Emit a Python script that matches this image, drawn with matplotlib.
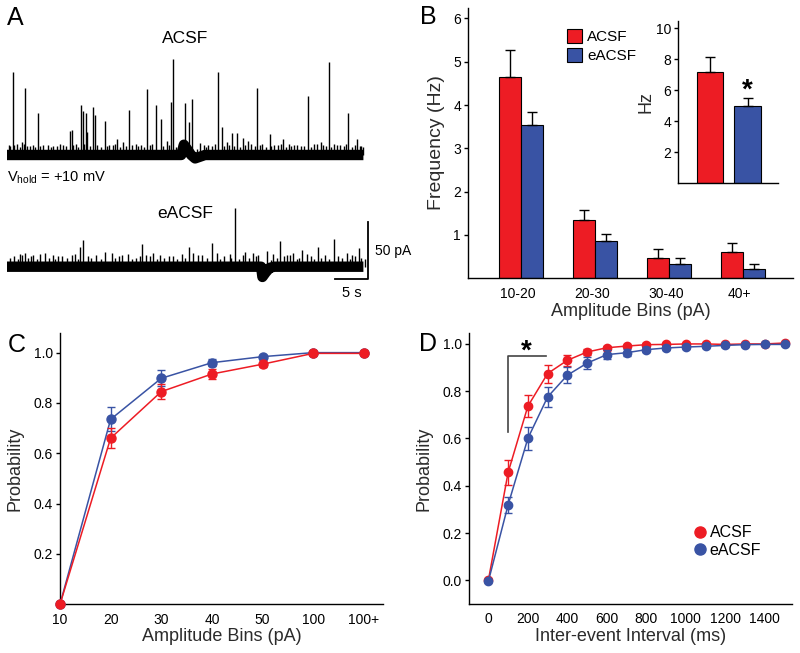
import matplotlib
matplotlib.use("Agg")
import matplotlib.pyplot as plt
from matplotlib.lines import Line2D
import numpy as np

plt.rcParams['font.family'] = ['Liberation Sans', 'DejaVu Sans']
plt.rcParams['mathtext.default'] = 'regular'

RED = '#ED1C24'
BLUE = '#3953A4'
LABEL = '#2b2b2b'

# ---- panel A: spontaneous events (time s, amplitude pA) ----
acsf_spike_t = [0.86, 2.68, 4.65, 9.55, 9.80, 11.2, 11.47, 11.92, 12.17, 12.98, 13.38,
                14.85, 16.72, 18.48, 21.16, 22.53, 23.28, 24.8, 25.15, 27.02, 27.63,
                28.03, 29.24, 32.02, 32.53, 34.04, 34.8, 35.7, 37.93, 39.85, 41.87,
                45.6, 48.84, 51.67, 52.98]
acsf_spike_amp = [72.5, 58.5, 37.1, 21, 22, 43.9, 38.9, 36.5, 20.5, 42.1, 35.1,
                  29.8, 13.7, 39.8, 57.9, 43.9, 31.6, 46.8, 83.9, 38, 26.9,
                  50, 12.3, 72.5, 24.9, 19.6, 19, 15.2, 59, 18.1, 13.7,
                  52, 81.9, 37.1, 14]
acsf_small_t = [0.3, 1.5, 2.2, 3.5, 5.5, 7.0, 8.5, 10.5, 15.5, 17.5, 19.5, 20.3, 24.2,
                26.0, 30.5, 31.0, 33.3, 36.5, 38.7, 40.5, 42.8, 43.5, 44.5, 46.5,
                47.5, 49.6, 50.5, 53.5]
acsf_small_amp = [9, 10, 11, 8, 9, 8, 9, 10, 9, 11, 10, 9, 12, 10, 9, 8, 11, 12, 10, 9,
                  10, 9, 8, 10, 11, 10, 9, 8]
acsf_fine_t = [0.5, 1.1, 1.9, 2.5, 3.1, 3.9, 4.3, 5.0, 6.2, 6.6, 7.5, 8.0, 9.0, 10.0,
               10.8, 11.6, 12.5, 13.7, 14.2, 15.1, 16.0, 16.4, 17.1, 18.0, 18.9, 19.8,
               20.8, 21.7, 22.0, 23.7, 24.5, 25.6, 28.8, 29.8, 30.2, 31.5, 32.9, 33.7,
               34.4, 35.3, 36.1, 37.0, 37.5, 38.3, 39.2, 40.0, 41.0, 41.5, 42.3, 43.1,
               44.0, 45.0, 46.0, 46.9, 47.9, 48.3, 49.1, 50.0, 51.0, 51.3, 52.3, 52.7,
               53.6, 54.0]
acsf_fine_amp = [8, 9, 7, 10, 8, 9, 7, 8, 9, 7, 8, 10, 8, 9, 7, 10, 8, 9, 7, 8, 9, 10,
                 7, 8, 9, 8, 7, 9, 10, 8, 9, 7, 8, 9, 7, 10, 8, 9, 8, 7, 9, 10, 8, 9,
                 7, 8, 9, 10, 7, 8, 9, 8, 7, 10, 9, 8, 7, 9, 8, 10, 7, 9, 8, 7]
acsf_base_t = [0, 26.4, 26.8, 27.3, 27.9, 28.5, 30.0, 54.0]
acsf_base_off = [0, 0, 9, 5, 0, -3, 0, 0]

eacsf_spike_t = [11.1, 11.47, 14.85, 20.4, 27.58, 31.0, 34.55, 39.34, 41.36, 44.65,
                 47.07, 49.55, 53.33]
eacsf_spike_amp = [17, 23.4, 13, 19.9, 17.5, 20.5, 51.2, 18.1, 22.5, 14.6, 17, 24.6, 16.1]
eacsf_small_t = [1.97, 2.73, 3.99, 5.0, 5.76, 7.78, 9.8, 10.3, 15.86, 17.37, 18.38, 20.15,
                 22.17, 23.18, 25.2, 26.47, 28.23, 28.99, 31.77, 33.79, 36.06, 37.32,
                 38.08, 40.35, 42.38, 43.38, 45.41, 51.46, 52.22]
eacsf_small_amp = [11, 12, 10, 11, 12, 9, 10, 11, 12, 10, 11, 9, 12, 10, 9, 11, 12, 10,
                   12, 11, 13, 12, 10, 11, 10, 12, 11, 12, 10]
eacsf_fine_t = [0.4, 1.0, 1.6, 2.3, 3.2, 3.6, 4.5, 6.3, 6.9, 7.3, 8.4, 9.1, 10.8, 12.2,
                12.8, 13.5, 14.2, 16.4, 16.9, 19.0, 19.6, 21.0, 21.6, 22.7, 23.8, 24.5,
                25.8, 27.0, 29.6, 30.3, 32.3, 32.9, 34.0, 35.2, 35.7, 36.7, 37.8, 40.0,
                40.9, 42.0, 42.9, 43.9, 44.2, 46.0, 46.5, 47.6, 48.2, 48.8, 50.1, 50.7,
                51.9, 52.8, 53.7, 54.2]
eacsf_fine_amp = [8, 9, 7, 10, 8, 9, 7, 8, 10, 7, 9, 8, 7, 9, 8, 10, 7, 8, 9, 7, 8, 10,
                  9, 7, 8, 9, 7, 8, 10, 8, 7, 9, 8, 7, 10, 8, 9, 7, 8, 9, 10, 7, 8, 9,
                  7, 8, 10, 7, 9, 8, 7, 9, 8, 7]
eacsf_base_t = [0, 38.5, 38.7, 39.2, 39.8, 40.5, 54.0]
eacsf_base_off = [0, 0, -9, -5, -1, 0, 0]

# ---- panel B ----
bins_b = ['10-20', '20-30', '30-40', '40+']
acsf_freq = [4.65, 1.35, 0.48, 0.61]
acsf_freq_err = [0.62, 0.23, 0.19, 0.21]
eacsf_freq = [3.54, 0.87, 0.32, 0.21]
eacsf_freq_err = [0.31, 0.15, 0.14, 0.11]
total_freq = [7.2, 5.0]
total_freq_err = [0.93, 0.52]

# ---- panel C ----
bins_c = ['10', '20', '30', '40', '50', '100', '100+']
acsf_amp_cum = [0.0, 0.66, 0.845, 0.915, 0.954, 0.997, 0.997]
acsf_amp_err = [0.0, 0.04, 0.03, 0.02, 0.01, 0.004, 0.003]
eacsf_amp_cum = [0.0, 0.735, 0.898, 0.96, 0.984, 1.0, 1.0]
eacsf_amp_err = [0.0, 0.047, 0.032, 0.015, 0.008, 0.003, 0.002]

# ---- panel D ----
intervals = [0, 100, 200, 300, 400, 500, 600, 700, 800, 900, 1000, 1100, 1200, 1300, 1400, 1500]
acsf_iei = [0.0, 0.456, 0.736, 0.874, 0.93, 0.965, 0.983, 0.99, 0.996, 0.997, 0.999,
            0.999, 0.997, 0.999, 0.999, 1.003]
acsf_iei_err = [0.0, 0.053, 0.046, 0.038, 0.024, 0.014, 0.008, 0.006, 0.005, 0.004,
                0.003, 0.003, 0.003, 0.002, 0.002, 0.002]
eacsf_iei = [-0.004, 0.319, 0.60, 0.775, 0.867, 0.918, 0.954, 0.962, 0.975, 0.982, 0.986,
             0.989, 0.993, 0.996, 0.997, 0.997]
eacsf_iei_err = [0.0, 0.033, 0.049, 0.042, 0.035, 0.025, 0.018, 0.015, 0.012, 0.01,
                 0.008, 0.006, 0.005, 0.004, 0.003, 0.003]


def box(l, t, r, b):
    return [l / 800, 1 - b / 653, (r - l) / 800, (b - t) / 653]


def style(ax):
    for s in ['top', 'right']:
        ax.spines[s].set_visible(False)
    for s in ['left', 'bottom']:
        ax.spines[s].set_linewidth(1.0)
    ax.tick_params(axis='y', direction='out', length=3, width=1, labelsize=10, pad=2)
    ax.tick_params(axis='x', length=0, labelsize=10, pad=6)


fig = plt.figure(figsize=(8, 6.53), dpi=100)

# ---------------- A ----------------
axA = fig.add_axes(box(7, 20, 370, 300))
axA.set_xlim(0, 55)
axA.set_ylim(0, 245.6)
axA.axis('off')


def draw_trace(ax, base, bt, boff, events):
    bt = np.array(bt)
    boff = np.array(boff)
    ax.plot(bt, base + boff, color='k', lw=7.5, solid_capstyle='butt')
    for t_list, a_list in events:
        t_arr = np.array(t_list)
        off = np.interp(t_arr, bt, boff)
        ax.vlines(t_arr, base + off, base + off + np.array(a_list), color='k', lw=1.0)


draw_trace(axA, 127.2, acsf_base_t, acsf_base_off,
           [(acsf_fine_t, acsf_fine_amp), (acsf_small_t, acsf_small_amp),
            (acsf_spike_t, acsf_spike_amp)])
draw_trace(axA, 29.2, eacsf_base_t, eacsf_base_off,
           [(eacsf_fine_t, eacsf_fine_amp), (eacsf_small_t, eacsf_small_amp),
            (eacsf_spike_t, eacsf_spike_amp)])

# scale bar: 5 s, 50 pA
axA.plot([49.7, 54.7, 54.7], [18.4, 18.4, 68.4], color='k', lw=1.3, clip_on=False)
axA.text(55.8, 43.4, '50 pA', fontsize=10, va='center', ha='left')
axA.text(52.2, 6.0, '5 s', fontsize=10.5, va='center', ha='center')
axA.text(27, 229.8, 'ACSF', fontsize=12.5, ha='center', va='center')
axA.text(27, 76.3, 'eACSF', fontsize=12.5, ha='center', va='center')
axA.text(0, 107, r'V$_{hold}$ = +10 mV', fontsize=10.5, ha='left', va='center')

# ---------------- B ----------------
axB = fig.add_axes(box(468, 7.6, 793, 278.3))
style(axB)
xb = np.arange(len(bins_b))
w = 0.3
ekw = dict(ecolor='k', elinewidth=1, capsize=3.5, capthick=1)
axB.bar(xb - w / 2, acsf_freq, w, color=RED, edgecolor='k', lw=0.8,
        yerr=[np.zeros(4), acsf_freq_err], error_kw=ekw, label='ACSF')
axB.bar(xb + w / 2, eacsf_freq, w, color=BLUE, edgecolor='k', lw=0.8,
        yerr=[np.zeros(4), eacsf_freq_err], error_kw=ekw, label='eACSF')
axB.set_xlim(-0.716, 3.68)
axB.set_ylim(0, 6.25)
axB.set_yticks([1, 2, 3, 4, 5, 6])
axB.set_xticks(xb - 0.04)
axB.set_xticklabels(bins_b)
axB.set_ylabel('Frequency (Hz)', fontsize=14, color=LABEL, labelpad=6)
axB.set_xlabel('Amplitude Bins (pA)', fontsize=13, color=LABEL, labelpad=2)
axB.legend(loc='upper left', bbox_to_anchor=(0.305, 0.92), frameon=False, fontsize=11,
           handlelength=1.0, handleheight=1.0, handletextpad=0.3, labelspacing=0.25,
           borderpad=0, borderaxespad=0)

# inset
axI = fig.add_axes(box(678, 20.7, 778, 183.3))
style(axI)
xi = np.arange(2)
axI.bar(xi, total_freq, 0.7, color=[RED, BLUE], edgecolor='k', lw=0.8,
        yerr=[np.zeros(2), total_freq_err], error_kw=ekw)
axI.set_xlim(-0.853, 1.813)
axI.set_ylim(0, 10.5)
axI.set_yticks([2, 4, 6, 8, 10])
axI.set_xticks([])
axI.set_ylabel('Hz', fontsize=13, color=LABEL, labelpad=1)
axI.text(1, 6.0, '*', fontsize=20, fontweight='bold', ha='center', va='center')

# ---------------- C ----------------
axC = fig.add_axes(box(60, 333, 383, 604.3))
style(axC)
xc = np.arange(len(bins_c))
axC.errorbar(xc, eacsf_amp_cum, yerr=eacsf_amp_err, color=BLUE, marker='o', ms=6.5,
             lw=1.1, capsize=3, elinewidth=1, clip_on=False, zorder=3)
axC.errorbar(xc, acsf_amp_cum, yerr=acsf_amp_err, color=RED, marker='o', ms=6.5,
             lw=1.1, capsize=3, elinewidth=1, clip_on=False, zorder=4)
axC.set_xlim(0, 6.38)
axC.set_ylim(0, 1.078)
axC.set_yticks([0.2, 0.4, 0.6, 0.8, 1.0])
axC.set_yticklabels(['0.2', '0.4', '0.6', '0.8', '1.0'])
axC.set_xticks(xc)
axC.set_xticklabels(bins_c)
axC.set_ylabel('Probability', fontsize=13, color=LABEL, labelpad=7)
axC.set_xlabel('Amplitude Bins (pA)', fontsize=13, color=LABEL, labelpad=1)

# ---------------- D ----------------
axD = fig.add_axes(box(469, 333.3, 792, 604))
style(axD)
axD.errorbar(intervals, acsf_iei, yerr=acsf_iei_err, color=RED, marker='o', ms=6,
             lw=1.1, capsize=3, elinewidth=1, zorder=3)
axD.errorbar(intervals, eacsf_iei, yerr=eacsf_iei_err, color=BLUE, marker='o', ms=6,
             lw=1.1, capsize=3, elinewidth=1, zorder=4)
axD.set_xlim(-98, 1537)
axD.set_ylim(-0.1, 1.044)
axD.set_yticks([0.0, 0.2, 0.4, 0.6, 0.8, 1.0])
axD.set_yticklabels(['0.0', '0.2', '0.4', '0.6', '0.8', '1.0'])
axD.set_xticks([0, 200, 400, 600, 800, 1000, 1200, 1400])
axD.set_ylabel('Probability', fontsize=13, color=LABEL, labelpad=7)
axD.set_xlabel('Inter-event Interval (ms)', fontsize=13, color=LABEL, labelpad=1)
axD.plot([100, 100, 290], [0.626, 0.947, 0.947], color='#444444', lw=1.2)
axD.text(190, 0.965, '*', fontsize=20, fontweight='bold', ha='center', va='center')
handles = [Line2D([], [], ls='none', marker='o', ms=8, color=RED),
           Line2D([], [], ls='none', marker='o', ms=8, color=BLUE)]
axD.legend(handles, ['ACSF', 'eACSF'], loc='upper left', bbox_to_anchor=(0.7, 0.29),
           frameon=False, fontsize=11.5, handlelength=0.6, handletextpad=0.3,
           labelspacing=0.15, borderpad=0, borderaxespad=0)

# panel letters
for letter, (px, py) in {'A': (15, 18), 'B': (428, 17), 'C': (17, 345), 'D': (428, 344)}.items():
    fig.text(px / 800, 1 - py / 653, letter, fontsize=18, ha='center', va='center')

fig.savefig('out.png', dpi=100)
